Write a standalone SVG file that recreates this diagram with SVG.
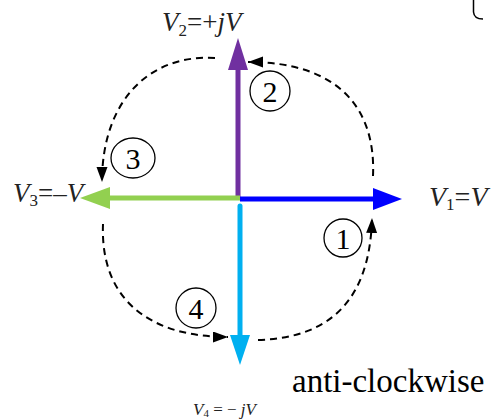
<svg xmlns="http://www.w3.org/2000/svg" width="492" height="420" viewBox="0 0 492 420">
<defs>
<style>
.dash{fill:none;stroke:#000;stroke-width:2;stroke-dasharray:7 5;}
.circ{fill:none;stroke:#000;stroke-width:1.3;}
.num{font-family:"Liberation Serif",serif;font-size:30px;text-anchor:middle;fill:#000;}
.lab{font-family:"Liberation Serif",serif;fill:#222;}
.it{font-style:italic;}
</style>
<marker id="ah" markerUnits="userSpaceOnUse" markerWidth="16" markerHeight="12" refX="15" refY="5.5" orient="auto">
<path d="M0,0 L15,5.5 L0,11 z" fill="#000"/>
</marker>
</defs>
<rect width="492" height="420" fill="#fff"/>
<g id="v2">
<line x1="238" y1="198" x2="238" y2="68" stroke="#7030A0" stroke-width="5"/>
<polygon points="228,70 238,38 248,70" fill="#7030A0"/>
<text class="lab" x="162" y="31" font-size="27"><tspan class="it">V</tspan><tspan font-size="17" dy="5">2</tspan><tspan dy="-5">=+</tspan><tspan class="it">jV</tspan></text>
</g>
<g id="v3">
<line x1="240" y1="198" x2="106" y2="198" stroke="#92D050" stroke-width="5"/>
<polygon points="110,187 80,198 110,209" fill="#92D050"/>
<text class="lab" x="13" y="202" font-size="27"><tspan class="it">V</tspan><tspan font-size="17" dy="4">3</tspan><tspan dy="-4">=–</tspan><tspan class="it">V</tspan></text>
</g>
<g id="v1">
<line x1="240" y1="199" x2="376" y2="199" stroke="#0000FF" stroke-width="5"/>
<polygon points="373,188 402,199 373,210" fill="#0000FF"/>
<text class="lab" x="429" y="206" font-size="28"><tspan class="it">V</tspan><tspan font-size="17" dy="4">1</tspan><tspan dy="-4">=</tspan><tspan class="it">V</tspan></text>
</g>
<g id="v4">
<line x1="240" y1="206" x2="240" y2="338" stroke="#00B0F0" stroke-width="5" stroke-linecap="round"/>
<polygon points="230,335 240,365 250,335" fill="#00B0F0"/>
<text class="lab" x="193" y="415" font-size="17"><tspan class="it">V</tspan><tspan font-size="11" dy="2">4</tspan><tspan dy="-2"> = − </tspan><tspan class="it">jV</tspan></text>
</g>
<g id="connectors">
<path class="dash" d="M258,340 C330,338 370,300 372,218" marker-end="url(#ah)"/>
<path class="dash" d="M373,176 C376,108 338,62 248,62" marker-end="url(#ah)"/>
<path class="dash" d="M215,58 C150,54 102,100 102,182" marker-end="url(#ah)"/>
<path class="dash" d="M103,224 C100,300 150,337 228,337" marker-end="url(#ah)"/>
</g>
<g id="c1"><circle class="circ" cx="343" cy="238" r="19"/><text class="num" x="343" y="249">1</text></g>
<g id="c2"><circle class="circ" cx="270" cy="91" r="20"/><text class="num" x="270" y="102">2</text></g>
<g id="c3"><ellipse class="circ" cx="133" cy="158" rx="22" ry="20"/><text class="num" x="133" y="169">3</text></g>
<g id="c4"><circle class="circ" cx="196" cy="308" r="20"/><text class="num" x="196" y="319">4</text></g>
<text class="lab" x="292" y="392" font-size="33" style="fill:#000">anti-clockwise</text>
<path d="M473.5,0 L473.5,12 Q474,19 483,19" fill="none" stroke="#000" stroke-width="1.5"/>
</svg>
